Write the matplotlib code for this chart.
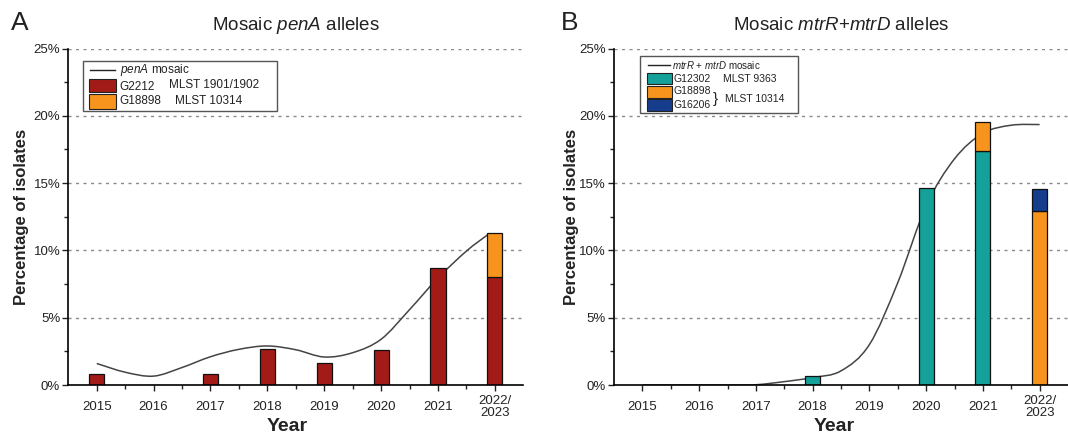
import numpy as np
import matplotlib
matplotlib.use("Agg")
from matplotlib import pyplot as plt
from matplotlib.path import Path
from matplotlib.patches import PathPatch, Rectangle
from matplotlib.lines import Line2D

plt.rcParams['font.family'] = 'Liberation Sans'
plt.rcParams['mathtext.fontset'] = 'custom'
plt.rcParams['mathtext.rm'] = 'Liberation Sans'
plt.rcParams['mathtext.it'] = 'Liberation Sans:italic'
plt.rcParams['mathtext.bf'] = 'Liberation Sans:bold'

years = ['2015', '2016', '2017', '2018', '2019', '2020', '2021', '2022/\n2023']

# panel A: mosaic penA, % of isolates per year
penA_G2212 = [0.85, 0.0, 0.8, 2.66, 1.67, 2.59, 8.68, 8.06]
penA_G18898 = [0, 0, 0, 0, 0, 0, 0, 3.23]
# smoothed trend, read at half-year steps
penA_trend_x = [0, 0.5, 1, 1.5, 2, 2.5, 3, 3.5, 4, 4.5, 5, 5.5, 6, 6.5, 6.87]
penA_trend_y = [1.6, 0.95, 0.66, 1.3, 2.1, 2.65, 2.9, 2.62, 2.08, 2.4, 3.4, 5.6, 7.95, 9.95, 11.15]

# panel B: mosaic mtrR+mtrD
mtr_G12302 = [0, 0, 0, 0.67, 0, 14.65, 17.4, 0]
mtr_G18898 = [0, 0, 0, 0, 0, 0, 2.15, 12.93]
mtr_G16206 = [0, 0, 0, 0, 0, 0, 0, 1.62]
mtr_trend_x = [0, 0.5, 1, 1.5, 2, 2.5, 3, 3.5, 4, 4.5, 5, 5.5, 6, 6.5, 7]
mtr_trend_y = [0, 0, 0, 0, 0.02, 0.25, 0.55, 1.05, 3.0, 7.6, 13.3, 16.8, 18.7, 19.3, 19.35]

RED = '#A31B17'
ORANGE = '#F7941D'
TEAL = '#14A199'
NAVY = '#163C8C'

W, H = 1068, 437
fig = plt.figure(figsize=(W / 100, H / 100), dpi=100)


def fx(px):
    return px / W


def fy(py):
    return 1 - py / H


def smooth_path(xs, ys):
    # catmull-rom through the points, drawn as cubic beziers
    pts = np.column_stack([xs, ys])
    verts = [pts[0]]
    codes = [Path.MOVETO]
    n = len(pts)
    for i in range(n - 1):
        p0 = pts[max(i - 1, 0)]
        p1 = pts[i]
        p2 = pts[i + 1]
        p3 = pts[min(i + 2, n - 1)]
        c1 = p1 + (p2 - p0) / 6
        c2 = p2 - (p3 - p1) / 6
        verts += [c1, c2, p2]
        codes += [Path.CURVE4] * 3
    return Path(verts, codes)


def style_axes(ax):
    ax.set_xlim(-0.5, 7.5)
    ax.set_ylim(0, 25)
    ax.set_yticks([0, 5, 10, 15, 20, 25])
    ax.set_yticklabels(['0%', '5%', '10%', '15%', '20%', '25%'])
    ax.set_yticks([2.5, 7.5, 12.5, 17.5, 22.5], minor=True)
    ax.set_xticks(range(8))
    ax.set_xticklabels(years)
    ax.set_xticks([0.5, 1.5, 2.5, 3.5, 4.5, 5.5, 6.5], minor=True)
    for v in [5, 10, 15, 20, 25]:
        ax.axhline(v, color='#8a8a8a', lw=1.0, ls=(0, (2.2, 3.2)), zorder=0)
    for s in ['top', 'right']:
        ax.spines[s].set_visible(False)
    for s in ['left', 'bottom']:
        ax.spines[s].set_linewidth(1.2)
        ax.spines[s].set_zorder(5)
    ax.tick_params(axis='both', which='major', length=4.3, width=1.0, labelsize=9.5, color='#222222')
    ax.tick_params(axis='both', which='minor', length=2.6, width=1.0, color='#222222')
    ax.tick_params(axis='x', which='major', pad=11.5)
    ax.tick_params(axis='y', which='major', pad=1.5)
    for lbl in ax.get_xticklabels():
        lbl.set_va('center')
        lbl.set_linespacing(0.95)
    for lbl in ax.get_yticklabels() + ax.get_xticklabels():
        lbl.set_color('#222222')
    ax.set_xlabel('Year', fontsize=14, fontweight='bold', color='#222222')
    ax.set_ylabel('Percentage of isolates', fontsize=12, fontweight='bold', color='#222222')


x = np.arange(len(years))
bw = 0.265
ekw = dict(edgecolor='#111111', linewidth=0.9, zorder=3)

# ---- panel A
axA = fig.add_axes([fx(68.3), fy(385), (523.3 - 68.3) / W, (385 - 48.5) / H])
axA.add_patch(PathPatch(smooth_path(penA_trend_x, penA_trend_y), fill=False,
                        edgecolor='#444444', lw=1.1, zorder=2))
axA.bar(x, penA_G2212, bw, color=RED, **ekw)
axA.bar(x[7:], penA_G18898[7:], bw, bottom=penA_G2212[7:], color=ORANGE, **ekw)
style_axes(axA)
axA.xaxis.set_label_coords(0.482, -0.097)
axA.yaxis.set_label_coords(-0.086, 0.5)
axA.set_title(r'Mosaic $\mathit{penA}$ alleles', fontsize=13.5, pad=13, color='#222222')

# ---- panel B
axB = fig.add_axes([fx(614), fy(385), (1068 - 614) / W, (385 - 48.5) / H])
axB.add_patch(PathPatch(smooth_path(mtr_trend_x, mtr_trend_y), fill=False,
                        edgecolor='#444444', lw=1.1, zorder=2))
axB.bar(x[3:7], mtr_G12302[3:7], bw, color=TEAL, **ekw)
bot = np.array(mtr_G12302)
axB.bar(x[6:], mtr_G18898[6:], bw, bottom=bot[6:], color=ORANGE, **ekw)
bot = bot + np.array(mtr_G18898)
axB.bar(x[7:], mtr_G16206[7:], bw, bottom=bot[7:], color=NAVY, **ekw)
style_axes(axB)
axB.xaxis.set_label_coords(0.485, -0.097)
axB.yaxis.set_label_coords(-0.077, 0.5)
axB.set_title(r'Mosaic $\mathit{mtrR}$+$\mathit{mtrD}$ alleles', fontsize=13.5, pad=13, color='#222222')

# panel letters
fig.text(fx(11), fy(29.5), 'A', fontsize=19, color='#222222', va='baseline')
fig.text(fx(561), fy(29.5), 'B', fontsize=19, color='#222222', va='baseline')


# ---- legends, drawn by hand in figure pixels
def box(x0, y0, x1, y1):
    fig.add_artist(Rectangle((fx(x0), fy(y1)), fx(x1 - x0), (y1 - y0) / H,
                             transform=fig.transFigure, fill=True, facecolor='white',
                             edgecolor='#555555', lw=1.0, zorder=10))


def swatch(x0, y0, x1, y1, c):
    fig.add_artist(Rectangle((fx(x0), fy(y1)), fx(x1 - x0), (y1 - y0) / H,
                             transform=fig.transFigure, facecolor=c,
                             edgecolor='#222222', lw=0.8, zorder=11))


def line(x0, x1, y):
    fig.add_artist(Line2D([fx(x0), fx(x1)], [fy(y), fy(y)], transform=fig.transFigure,
                          color='#222222', lw=1.0, zorder=11))


def label(px, py, s, size):
    fig.text(fx(px), fy(py), s, fontsize=size, va='center', ha='left',
             color='#222222', zorder=12)


box(82.6, 60.5, 277.2, 110.5)
line(89.5, 115.4, 69.5)
label(119.5, 69.5, r'$\mathit{penA}$ mosaic', 8.5)
swatch(88.8, 78.5, 116, 92.3, RED)
swatch(88.8, 93.7, 116, 108.5, ORANGE)
label(119.5, 86.5, 'G2212', 8.5)
label(168.7, 84.5, 'MLST 1901/1902', 8.5)
label(119.5, 101.5, 'G18898', 8.5)
label(175, 100.5, 'MLST 10314', 8.5)

box(639.6, 56.2, 798, 113.4)
line(648, 669.6, 64.7)
label(672, 64.7, r'$\mathit{mtrR}$ + $\mathit{mtrD}$ mosaic', 7)
swatch(647.4, 73.2, 672, 84.1, TEAL)
swatch(647.4, 86.2, 672, 97.7, ORANGE)
swatch(647.4, 98.8, 672, 110.7, NAVY)
label(673.6, 79, 'G12302', 7.5)
label(723, 79, 'MLST 9363', 7.5)
label(673.6, 91.5, 'G18898', 7.5)
label(673.6, 104.5, 'G16206', 7.5)
label(712.5, 98.5, '}', 11)
label(724.7, 99.5, 'MLST 10314', 7.5)

fig.savefig('out.png', dpi=100)
